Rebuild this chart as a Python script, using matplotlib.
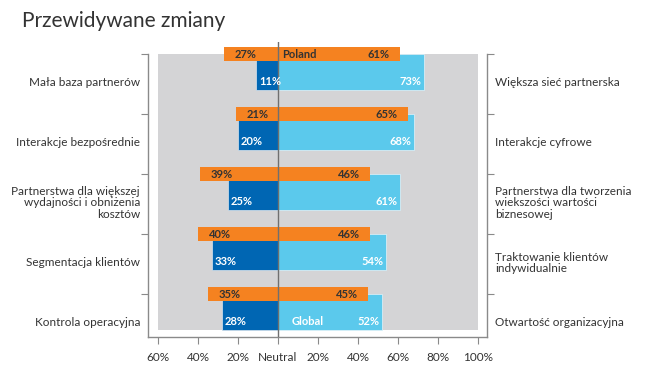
import matplotlib
matplotlib.use("Agg")

import matplotlib.pyplot as plt

plt.rcParams["font.family"] = ["Lato", "DejaVu Sans"]

# Data
left_labels = [
    "Mała baza partnerów",
    "Interakcje bezpośrednie",
    "Partnerstwa dla większej\nwydajności i obniżenia\nkosztów",
    "Segmentacja klientów",
    "Kontrola operacyjna",
]
right_labels = [
    "Większa sieć partnerska",
    "Interakcje cyfrowe",
    "Partnerstwa dla tworzenia\nwiekszości wartości\nbiznesowej",
    "Traktowanie klientów\nindywidualnie",
    "Otwartość organizacyjna",
]
poland_left = [27, 21, 39, 40, 35]
poland_right = [61, 65, 46, 46, 45]
global_left = [11, 20, 25, 33, 28]
global_right = [73, 68, 61, 54, 52]
xticks = [-60, -40, -20, 0, 20, 40, 60, 80, 100]
xtick_labels = ["60%", "40%", "20%", "Neutral", "20%", "40%", "60%", "80%", "100%"]

ORANGE = "#F58220"
DARK_BLUE = "#0066B3"
LIGHT_BLUE = "#5BC9EC"
GRAY_BG = "#D4D4D6"
AXIS = "#8A8A8A"
TEXT = "#333333"

fig = plt.figure(figsize=(6.5, 3.77), dpi=100)
ax = fig.add_axes([148 / 650, 1 - 337.2 / 377, 339 / 650, 295.2 / 377])

n = len(left_labels)
y = list(range(n))
g_h = 0.6    # global bar height (starts at the group tick)
p_h = 0.233  # poland bar height (centred on the tick)

# gray background
ax.fill_between([-60, 100], 0, (n - 1) + g_h, color=GRAY_BG, zorder=0, lw=0)

# global bars
ax.barh([v + g_h / 2 for v in y], [-v for v in global_left], height=g_h,
        color=DARK_BLUE, edgecolor="#d8e4ee", linewidth=0.5, zorder=2)
ax.barh([v + g_h / 2 for v in y], global_right, height=g_h,
        color=LIGHT_BLUE, edgecolor="#e4f3f9", linewidth=0.5, zorder=2)

# poland bars
ax.barh(y, [-v for v in poland_left], height=p_h, color=ORANGE, lw=0, zorder=3)
ax.barh(y, poland_right, height=p_h, color=ORANGE, lw=0, zorder=3)

ax.axvline(0, color="#6f6f6f", lw=1.0, zorder=4)

# value labels
for i in range(n):
    ax.text(-poland_left[i] + 5.5, i, f"{poland_left[i]}%", ha="left", va="center",
            fontsize=8, fontweight="bold", color=TEXT, zorder=5)
    ax.text(poland_right[i] - 5, i, f"{poland_right[i]}%", ha="right", va="center",
            fontsize=8, fontweight="bold", color=TEXT, zorder=5)
    ax.text(-global_left[i] + 1.5, i + 0.45, f"{global_left[i]}%", ha="left", va="center",
            fontsize=8, fontweight="bold", color="white", zorder=5)
    ax.text(global_right[i] - 1.5, i + 0.45, f"{global_right[i]}%", ha="right", va="center",
            fontsize=8, fontweight="bold", color="white", zorder=5)
    ax.text(-69, i + 0.48, left_labels[i], ha="right", va="center",
            fontsize=8.5, color=TEXT, linespacing=1.05)
    ax.text(108.5, i + 0.48, right_labels[i], ha="left", va="center",
            fontsize=8.5, color=TEXT, linespacing=1.05)

ax.text(2, 0, "Poland", ha="left", va="center", fontsize=8, fontweight="bold",
        color=TEXT, zorder=5)
ax.text(7, n - 1 + 0.45, "Global", ha="left", va="center", fontsize=8,
        fontweight="bold", color="white", zorder=5)

ax.set_xlim(-65, 104.5)
ax.set_ylim(4.72, -0.2)

ax.set_xticks(xticks)
ax.set_xticklabels(xtick_labels, fontsize=8.5, color=TEXT)
ax.set_yticks(y)
ax.set_yticklabels([])
ax.tick_params(axis="x", length=5, color=AXIS, pad=6)
ax.tick_params(axis="y", length=5, color=AXIS, left=True, right=True)

ax.spines["top"].set_visible(False)
for s in ["left", "right", "bottom"]:
    ax.spines[s].set_color(AXIS)
    ax.spines[s].set_linewidth(1.0)
ax.spines["left"].set_bounds(0, 4.72)
ax.spines["right"].set_bounds(0, 4.72)
ax.set_facecolor("none")

fig.text(22 / 650, 1 - 21 / 377, "Przewidywane zmiany", fontsize=15,
         color=TEXT, ha="left", va="center")

fig.savefig("out.png", dpi=100)
